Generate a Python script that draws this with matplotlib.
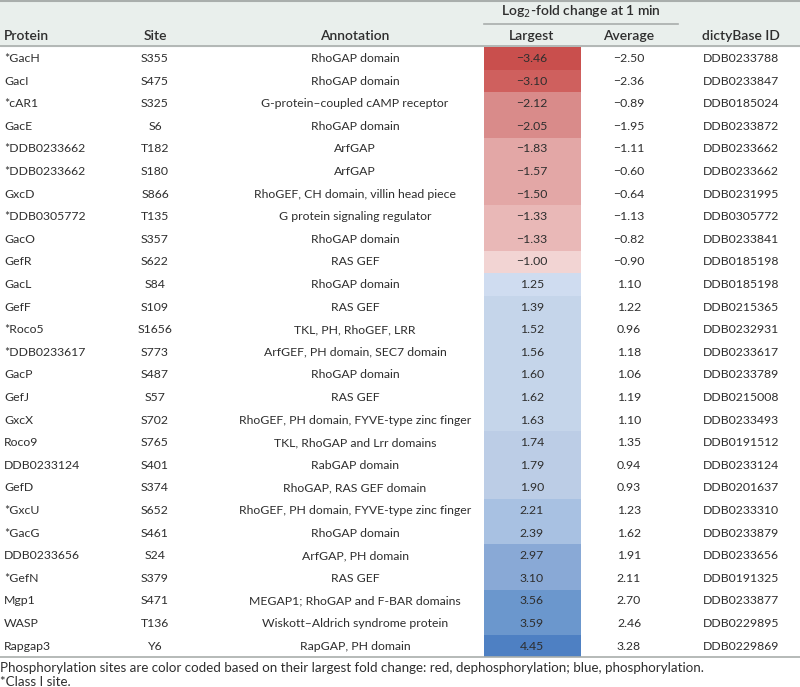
import matplotlib.pyplot as plt
import numpy as np
from matplotlib.colors import ListedColormap, BoundaryNorm

plt.rcParams['font.family'] = ['Lato', 'DejaVu Sans']

proteins = ['*GacH', 'GacI', '*cAR1', 'GacE', '*DDB0233662', '*DDB0233662', 'GxcD',
            '*DDB0305772', 'GacO', 'GefR', 'GacL', 'GefF', '*Roco5', '*DDB0233617',
            'GacP', 'GefJ', 'GxcX', 'Roco9', 'DDB0233124', 'GefD', '*GxcU', '*GacG',
            'DDB0233656', '*GefN', 'Mgp1', 'WASP', 'Rapgap3']
sites = ['S355', 'S475', 'S325', 'S6', 'T182', 'S180', 'S866', 'T135', 'S357', 'S622',
         'S84', 'S109', 'S1656', 'S773', 'S487', 'S57', 'S702', 'S765', 'S401', 'S374',
         'S652', 'S461', 'S24', 'S379', 'S471', 'T136', 'Y6']
annotations = ['RhoGAP domain', 'RhoGAP domain', 'G-protein\u2013coupled cAMP receptor',
               'RhoGAP domain', 'ArfGAP', 'ArfGAP', 'RhoGEF, CH domain, villin head piece',
               'G protein signaling regulator', 'RhoGAP domain', 'RAS GEF', 'RhoGAP domain',
               'RAS GEF', 'TKL, PH, RhoGEF, LRR', 'ArfGEF, PH domain, SEC7 domain',
               'RhoGAP domain', 'RAS GEF', 'RhoGEF, PH domain, FYVE-type zinc finger',
               'TKL, RhoGAP and Lrr domains', 'RabGAP domain', 'RhoGAP, RAS GEF domain',
               'RhoGEF, PH domain, FYVE-type zinc finger', 'RhoGAP domain', 'ArfGAP, PH domain',
               'RAS GEF', 'MEGAP1; RhoGAP and F-BAR domains', 'Wiskott\u2013Aldrich syndrome protein',
               'RapGAP, PH domain']
largest = [-3.46, -3.10, -2.12, -2.05, -1.83, -1.57, -1.50, -1.33, -1.33, -1.00,
           1.25, 1.39, 1.52, 1.56, 1.60, 1.62, 1.63, 1.74, 1.79, 1.90,
           2.21, 2.39, 2.97, 3.10, 3.56, 3.59, 4.45]
average = [-2.50, -2.36, -0.89, -1.95, -1.11, -0.60, -0.64, -1.13, -0.82, -0.90,
           1.10, 1.22, 0.96, 1.18, 1.06, 1.19, 1.10, 1.35, 0.94, 0.93,
           1.23, 1.62, 1.91, 2.11, 2.70, 2.46, 3.28]
dicty_ids = ['DDB0233788', 'DDB0233847', 'DDB0185024', 'DDB0233872', 'DDB0233662',
             'DDB0233662', 'DDB0231995', 'DDB0305772', 'DDB0233841', 'DDB0185198',
             'DDB0185198', 'DDB0215365', 'DDB0232931', 'DDB0233617', 'DDB0233789',
             'DDB0215008', 'DDB0233493', 'DDB0191512', 'DDB0233124', 'DDB0201637',
             'DDB0233310', 'DDB0233879', 'DDB0233656', 'DDB0191325', 'DDB0233877',
             'DDB0229895', 'DDB0229869']

# stepped colour scale for the "Largest" column
bounds = [-5, -3.3, -2.5, -1.9, -1.4, -1.1, 0, 1.3, 1.7, 2.0, 2.5, 3.3, 4.0, 5]
cols = ['#c94f4d', '#cf605e', '#d98b8a', '#e3a7a6', '#e9b8b7', '#f2d4d3',
        '#cfdcf0', '#c5d5ea', '#bccde6', '#a8c1e2', '#89a9d6', '#6b97cd', '#4e80c3']
cmap = ListedColormap(cols)
norm = BoundaryNorm(bounds, cmap.N)

def fmt(v):
    return ('\u2212%.2f' % -v) if v < 0 else '%.2f' % v

fig = plt.figure(figsize=(8, 6.87), dpi=100)
ax = fig.add_axes([0, 0, 1, 1])
ax.set_xlim(0, 800)
ax.set_ylim(687, 0)
ax.axis('off')

txt = '#2e2e2e'
fs = 8.8
hfs = 10
y0, dy = 58.5, 22.6
n = len(proteins)

# header
ax.add_patch(plt.Rectangle((0, 0), 800, 46, color='#e9efec', zorder=0))
ax.plot([0, 800], [0.8, 0.8], color='#a9aeac', lw=1.5)
ax.plot([0, 800], [46, 46], color='#a9aeac', lw=1.2)
ax.plot([484, 678], [24, 24], color='#a9aeac', lw=1.2)
ax.text(581, 12, 'Log$_2$-fold change at 1 min', ha='center', va='center',
        fontsize=hfs, color=txt, fontweight='semibold')
hy = 36
ax.text(4, hy, 'Protein', ha='left', va='center', fontsize=hfs, color=txt, fontweight='semibold')
ax.text(155, hy, 'Site', ha='center', va='center', fontsize=hfs, color=txt, fontweight='semibold')
ax.text(355, hy, 'Annotation', ha='center', va='center', fontsize=hfs, color=txt, fontweight='semibold')
ax.text(532, hy, 'Largest', ha='center', va='center', fontsize=hfs, color=txt, fontweight='semibold')
ax.text(629, hy, 'Average', ha='center', va='center', fontsize=hfs, color=txt, fontweight='semibold')
ax.text(741, hy, 'dictyBase ID', ha='center', va='center', fontsize=hfs, color=txt, fontweight='semibold')

# coloured cells
rows = y0 + dy * np.arange(n)
ax.bar(532, dy, width=97, bottom=rows - dy / 2, color=cmap(norm(largest)), zorder=1)

for i in range(n):
    y = rows[i]
    ax.text(4, y, proteins[i], ha='left', va='center', fontsize=fs, color=txt)
    ax.text(155, y, sites[i], ha='center', va='center', fontsize=fs, color=txt)
    ax.text(355, y, annotations[i], ha='center', va='center', fontsize=fs, color=txt)
    ax.text(532, y, fmt(largest[i]), ha='center', va='center', fontsize=fs, color=txt, zorder=3)
    ax.text(629, y, fmt(average[i]), ha='center', va='center', fontsize=fs, color=txt)
    ax.text(741, y, dicty_ids[i], ha='center', va='center', fontsize=fs, color=txt)

ybot = rows[-1] + dy / 2
ax.plot([0, 800], [ybot, ybot], color='#a9aeac', lw=1.2)

ax.text(0, 668, 'Phosphorylation sites are color coded based on their largest fold change: '
        'red, dephosphorylation; blue, phosphorylation.', ha='left', va='center',
        fontsize=9.6, color=txt)
ax.text(0, 681.5, '*Class I site.', ha='left', va='center', fontsize=9.6, color=txt)

fig.savefig('out.png', dpi=100)
